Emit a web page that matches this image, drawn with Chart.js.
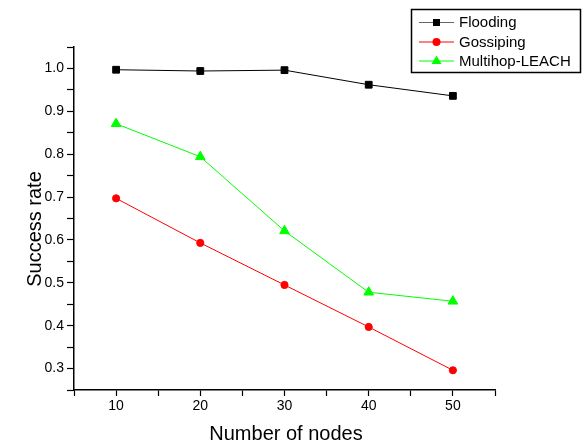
<!DOCTYPE html>
<html>
<head>
<meta charset="utf-8">
<script src="https://cdn.jsdelivr.net/npm/chart.js@4.4.1/dist/chart.umd.min.js"></script>
<style>
    html, body { margin: 0; padding: 0; background: #fff; }
    canvas { display: block; }
</style>
</head>
<body>
<canvas id="grafico" width="584" height="446"></canvas>
<script>
'use strict';

// datos
const nodos = [10, 20, 30, 40, 50];
const flooding = [0.997, 0.994, 0.996, 0.962, 0.936];
const gossiping = [0.697, 0.593, 0.495, 0.397, 0.296];
const multihop = [0.871, 0.794, 0.621, 0.478, 0.457];
const nombres = ["Flooding", "Gossiping", "Multihop-LEACH"];
const tituloX = "Number of nodes";
const tituloY = "Success rate";

const fuente = "'Liberation Sans', Arial, sans-serif";

let puntos = (valores) => {
    let lista = [];
    for (let i = 0; i < nodos.length; i++) {
        lista.push({ x: nodos[i], y: valores[i] });
    }
    return lista;
}

// dibuja un marcador a mano para la leyenda
let marcador = (ctx, tipo, x, y, color) => {
    ctx.fillStyle = color;
    ctx.beginPath();
    if (tipo == 'rect') {
        ctx.rect(x - 3.5, y - 3.5, 7, 7);
    } else if (tipo == 'circle') {
        ctx.arc(x, y, 4, 0, Math.PI * 2);
    } else {
        ctx.moveTo(x, y - 5.5);
        ctx.lineTo(x + 5, y + 3);
        ctx.lineTo(x - 5, y + 3);
        ctx.closePath();
    }
    ctx.fill();
}

const extras = {
    id: 'extras',
    afterDraw: (chart) => {
        const ctx = chart.ctx;
        ctx.save();

        // titulos de ejes
        ctx.fillStyle = '#000';
        ctx.font = "20px " + fuente;
        ctx.textAlign = 'center';
        ctx.textBaseline = 'alphabetic';
        ctx.fillText(tituloX, 286, 440);

        ctx.save();
        ctx.translate(41, 229);
        ctx.rotate(-Math.PI / 2);
        ctx.fillText(tituloY, 0, 0);
        ctx.restore();

        // leyenda
        ctx.lineWidth = 1.5;
        ctx.strokeStyle = '#000';
        ctx.strokeRect(411.5, 9.5, 169, 63);

        const filas = [22, 41.5, 60.5];
        ctx.font = "15px " + fuente;
        ctx.textAlign = 'left';
        ctx.textBaseline = 'middle';
        chart.data.datasets.forEach((ds, i) => {
            let y = filas[i];
            ctx.lineWidth = 1;
            ctx.strokeStyle = i == 0 ? '#666' : ds.borderColor;
            ctx.beginPath();
            ctx.moveTo(419, y + 0.5);
            ctx.lineTo(454, y + 0.5);
            ctx.stroke();
            marcador(ctx, ds.pointStyle, 436.5, y + 0.5, ds.pointBackgroundColor);
            ctx.fillStyle = '#000';
            ctx.fillText(ds.label, 459, y + 1);
        });

        ctx.restore();
    }
};

let serie = (nombre, valores, color, estilo, radio) => {
    return {
        label: nombre,
        data: puntos(valores),
        borderColor: color,
        backgroundColor: color,
        pointBackgroundColor: color,
        pointBorderColor: color,
        borderWidth: 1,
        pointStyle: estilo,
        pointRadius: radio,
        pointHoverRadius: radio,
        pointBorderWidth: 1,
        tension: 0,
        fill: false
    };
}

let etiqueta = (v) => {
    let r = Math.round(v * 100);
    return r % 10 === 0 ? (r / 100).toFixed(1) : '';
}

new Chart(document.getElementById("grafico"), {
    type: 'scatter',
    data: {
        datasets: [
            serie(nombres[0], flooding, '#000000', 'rect', 4.8),
            serie(nombres[1], gossiping, '#ff0000', 'circle', 3.6),
            serie(nombres[2], multihop, '#00ff00', 'triangle', 5.6)
        ]
    },
    options: {
        responsive: false,
        animation: false,
        showLine: true,
        devicePixelRatio: 1,
        layout: { padding: { top: 47, right: 89, left: 0, bottom: 0 } },
        plugins: {
            legend: { display: false },
            tooltip: { enabled: false }
        },
        scales: {
            x: {
                type: 'linear',
                min: 5,
                max: 55,
                afterFit: (scale) => { scale.height = 56; },
                border: { display: true, color: '#000', width: 1.5 },
                grid: { drawOnChartArea: false, drawTicks: true, tickLength: 6, color: '#000', tickWidth: 1.2 },
                ticks: {
                    stepSize: 5,
                    autoSkip: false,
                    maxRotation: 0,
                    padding: 2,
                    color: '#000',
                    font: { family: fuente, size: 14 },
                    callback: (v) => (Math.round(v) % 10 === 0 ? String(Math.round(v)) : '')
                }
            },
            y: {
                type: 'linear',
                min: 0.25,
                max: 1.05,
                afterFit: (scale) => { scale.width = 74; },
                border: { display: true, color: '#000', width: 1.5 },
                grid: { drawOnChartArea: false, drawTicks: true, tickLength: 7, color: '#000', tickWidth: 1.2 },
                ticks: {
                    stepSize: 0.05,
                    autoSkip: false,
                    padding: 3,
                    color: '#000',
                    font: { family: fuente, size: 14 },
                    callback: etiqueta
                }
            }
        }
    },
    plugins: [extras]
});
</script>
</body>
</html>
